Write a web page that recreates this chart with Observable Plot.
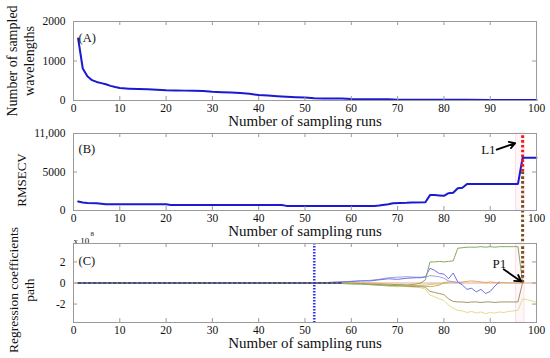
<!DOCTYPE html>
<html><head><meta charset="utf-8">
<script src="https://cdn.jsdelivr.net/npm/d3@7"></script>
<script src="https://cdn.jsdelivr.net/npm/@observablehq/plot@0.6"></script>
<style>
body{margin:0;background:#fff;}
#chart{position:relative;width:550px;height:358px;background:#fff;}
#chart svg{position:absolute;left:0;top:0;background:transparent;overflow:visible;}
</style></head><body><div id="chart"></div>
<script>
// ---------- data ----------
const xTicks = [0,10,20,30,40,50,60,70,80,90,100];
const xLabel = "Number of sampling runs";

// Panel A: number of sampled wavelengths
const runsA = [1,2,3,4,5,6,7,8,9,10,12,14,16,18,20,22,24,26,28,30,32,34,36,38,40,42,44,46,48,50,52,54,56,58,60,62,64,66,68,70,75,80,85,90,95,100];
const wavelengths = [1570,810,615,515,470,440,410,370,340,315,300,290,282,275,262,255,250,245,238,222,212,200,188,168,140,125,110,95,85,78,60,52,50,48,38,34,33,33,30,20,18,17,16,15,15,15];
const yTicksA = [0,1000,2000];
const yTickLabelsA = ["0","1000","2000"];
const yLabelA = "Number of sampled\nwavelengths";

// Panel B: RMSECV
const runsB = [1,2,3,5,7,10,15,20,21,30,40,45,46,50,60,65,66,68,69,72,73,76,77,78,79,80,81,82,83,84,85,90,95,96,97,98,100];
const rmsecv = [1180,1050,980,950,800,800,800,800,700,700,700,700,600,600,600,600,650,800,950,1000,1050,1080,2000,2000,1950,1900,2250,2300,2900,2950,3450,3450,3450,3450,6850,6850,6850];
const yTicksB = [0,5000,10000];
const yTickLabelsB = ["0","5000","11,000"];
const yLabelB = "RMSECV";

// Panel C: regression coefficient paths (x 10^8)
const runsC = [1,10,20,30,40,50,52,55,58,60,62,64,66,68,70,72,74,75,76,77,78,79,80,81,82,83,84,85,86,87,88,89,90,91,92,93,94,95,96,97,98,99,100];
const coefGreen  = [0,0,0,0,0,0, 0,0,-0.05, -0.1,-0.1,-0.15,-0.2,-0.2, -0.15,-0.2,-0.1,0,0.3, 2.0,2.0,2.05,2.0,2.05,2.1,3.3,3.35,3.4,3.4,3.4,3.45,3.4,3.45,3.4,3.45,3.45,3.45,3.45,3.45,0.05,null,null,null];
const coefBlue   = [0,0,0,0,0,0, 0,0.05,0.1, 0.15,0.2,0.2,0.3,0.4, 0.35,0.45,0.5,0.5,0.6, 1.4,1.2,0.9,0.85,0.4,0.95,0.1,-0.2,-0.6,-0.5,-0.85,-0.6,-1.0,-0.8,-0.3,0.1,null,null,null,null,null,null,null,null];
const coefBlue2  = [0,0,0,0,0,0, 0,0.05,0.1, 0.15,0.2,0.25,0.35,0.5, 0.55,0.6,0.55,0.55,0.55, 0.7,0.65,0.6,0.45,0.2,0.1,0.05,0,null,null,null,null,null,null,null,null,null,null,null,null,null,null,null,null];
const coefOlive  = [0,0,0,0,0,0, 0,0,0, 0,-0.05,-0.1,-0.15,-0.2, -0.25,-0.3,-0.35,-0.35,-0.4, -0.8,-0.9,-1.0,-1.1,-1.5,-1.75,-1.8,-1.8,-1.85,-1.8,-1.8,-1.85,-1.8,-1.8,-1.85,-1.8,-1.8,-1.8,-1.8,-1.8,0.05,null,null,null];
const coefYellow = [0,0,0,0,0,0, 0,0,0, 0,-0.05,-0.1,-0.2,-0.25, -0.3,-0.35,-0.4,-0.45,-0.6, -1.15,-1.3,-1.5,-1.65,-2.1,-2.4,-2.6,-2.65,-2.8,-2.7,-2.85,-2.75,-2.9,-2.8,-2.85,-2.75,-2.8,-2.7,-2.65,-2.6,-1.5,-1.6,-1.7,-1.85];
const coefOrange = [0,0,0,0,0,0, 0,0,0, 0,0,0,-0.05,-0.1, -0.15,-0.2,-0.25,-0.25,-0.3, -0.35,-0.3,-0.2,0.05,0.1,0.1,0.05,0.1,0.15,0.2,0.15,0.1,0.05,0.1,0.05,0,0.05,0,0,0,0,null,null,null];
const coefLime   = [0,0,0,0,0,0, 0,0,0, -0.05,-0.1,-0.15,-0.2,-0.3, -0.35,-0.3,-0.25,-0.2,-0.2, -0.15,-0.1,-0.1,-0.05,0,null,null,null,null,null,null,null,null,null,null,null,null,null,null,null,null,null,null,null];
const coefDark   = [0,0,0,0,0,0, 0,0,0, null,null,null,null,null,null,null,null,null,null,null,null,null,null,null,null,null,null,null,null,null,null,null,null,null,null,null,null,null,null,null,null,null,null];
const yTicksC = [-2,0,2];
const yTickLabelsC = ["-2","0","2"];
const yLabelC = "Regression coefficients\npath";

// annotations
const selectedRun = [97];          // L1 / P1 position
const selectedBand = [[95.6, 97.4]];
const stopRun = [52];              // blue dotted line in (C)
const l1Text = [{run: 89.6, v: 7900, t: "L1"}];
const l1Arrow = [{x1: 91.4, y1: 7900, x2: 95.4, y2: 8750}];
const p1Text = [{run: 92.0, v: 1.85, t: "P1"}];
const p1Arrow = [{x1: 92.9, y1: 1.3, x2: 96.7, y2: 0.15}];

// ---------- layout ----------
const W = 550, H = 358, ML = 73, MR = 14;
const FONT = '"Liberation Serif", "Times New Roman", serif';
const blue = "#1a1ad0";
const tickColor = "#9a9a9a";

function panel({top, bottom, yDomain, yTicks, yTickLabels, yLabel, yLabelSize, yLabelDy, tag, tagDy, marks}) {
  const fh = bottom - top, fw = W - ML - MR;
  return Plot.plot({
    width: W, height: H,
    marginLeft: ML, marginRight: MR, marginTop: top, marginBottom: H - bottom,
    style: {background: "transparent", fontFamily: FONT, color: "#111", overflow: "visible"},
    x: {domain: [0, 100]},
    y: {domain: yDomain},
    marks: [
      ...marks,
      Plot.frame({stroke: tickColor}),
      Plot.tickX(xTicks, {stroke: tickColor, insetTop: fh - 4}),
      Plot.tickX(xTicks, {stroke: tickColor, insetBottom: fh - 4}),
      Plot.tickY(yTicks, {stroke: tickColor, insetRight: fw - 4}),
      Plot.tickY(yTicks, {stroke: tickColor, insetLeft: fw - 4}),
      Plot.axisX(xTicks, {tickSize: 0, tickPadding: 3, label: null, fontSize: 11.5, fill: "#111"}),
      Plot.axisY(yTicks, {tickSize: 0, tickPadding: 8, label: null, fontSize: 11.5, fill: "#111",
        tickFormat: d => yTickLabels[yTicks.indexOf(d)]}),
      Plot.text([xLabel], {frameAnchor: "bottom", dy: 25, fontSize: 15, fill: "#111"}),
      Plot.text([yLabel], {frameAnchor: "left", textAnchor: "middle", lineAnchor: "middle", rotate: -90, dx: -53, dy: yLabelDy, fontSize: yLabelSize, lineHeight: 1.2, fill: "#111"}),
      Plot.text([tag], {frameAnchor: "top-left", textAnchor: "start", dx: 5, dy: tagDy, fontSize: 12.5, fill: "#111"})
    ]
  });
}

const rowsA = runsA.map((r, i) => ({run: r, v: wavelengths[i]}));
const rowsB = runsB.map((r, i) => ({run: r, v: rmsecv[i]}));
const seriesC = [
  {vals: coefLime, color: "#bccf74", w: 1, dash: null},
  {vals: coefOrange, color: "#dcaa62", w: 1, dash: null},
  {vals: coefYellow, color: "#e2de8a", w: 1, dash: null},
  {vals: coefOlive, color: "#a39468", w: 1, dash: null},
  {vals: coefBlue2, color: "#a0a0e6", w: 1, dash: null},
  {vals: coefBlue, color: "#7070e2", w: 1, dash: null},
  {vals: coefGreen, color: "#88a862", w: 1, dash: null},
  {vals: coefDark, color: "#34346e", w: 1.4, dash: "3,2"}
];

const plotA = panel({
  top: 21, bottom: 100, yDomain: [0, 2000], yTicks: yTicksA, yTickLabels: yTickLabelsA,
  yLabel: yLabelA, yLabelSize: 14, yLabelDy: 0, tag: "(A)", tagDy: 12,
  marks: [
    Plot.line(rowsA, {x: "run", y: "v", stroke: blue, strokeWidth: 2})
  ]
});

const plotB = panel({
  top: 133, bottom: 210, yDomain: [0, 10000], yTicks: yTicksB, yTickLabels: yTickLabelsB,
  yLabel: yLabelB, yLabelSize: 13, yLabelDy: 8, tag: "(B)", tagDy: 11,
  marks: [
    Plot.rect(selectedBand, {x1: d => d[0], x2: d => d[1], fill: "#fff6fa", stroke: "#fbdde9", strokeWidth: 1}),
    Plot.line(rowsB, {x: "run", y: "v", stroke: blue, strokeWidth: 2}),
    Plot.ruleX(selectedRun, {y1: 5000, y2: 10000, stroke: "#ee1c1c", strokeWidth: 3, strokeDasharray: "2.6,2.2"}),
    Plot.ruleX(selectedRun, {y1: 5000, y2: 0, insetBottom: -33, stroke: "#7a5020", strokeWidth: 3, strokeDasharray: "2.6,2.2"}),
    Plot.arrow(l1Arrow, {x1: "x1", y1: "y1", x2: "x2", y2: "y2", stroke: "#000", strokeWidth: 1.8, headLength: 9}),
    Plot.text(l1Text, {x: "run", y: "v", text: "t", fontSize: 13, fill: "#111"})
  ]
});

const plotC = panel({
  top: 243, bottom: 322, yDomain: [-3.75, 3.75], yTicks: yTicksC, yTickLabels: yTickLabelsC,
  yLabel: yLabelC, yLabelSize: 13.5, yLabelDy: 7, tag: "(C)", tagDy: 13,
  marks: [
    Plot.rect(selectedBand, {x1: d => d[0], x2: d => d[1], fill: "#fff6fa", stroke: "#fbdde9", strokeWidth: 1}),
    Plot.ruleY([0], {stroke: "#eaa890", strokeWidth: 1.2}),
    ...seriesC.map(s => Plot.line(runsC.map((r, i) => ({run: r, v: s.vals[i]})),
      {x: "run", y: "v", stroke: s.color, strokeWidth: s.w, strokeDasharray: s.dash})),
    Plot.ruleX(stopRun, {stroke: "#3030ee", strokeWidth: 2.6, strokeDasharray: "1.6,1.4"}),
    Plot.ruleX(selectedRun, {y1: 0, y2: 3.75, stroke: "#7a5020", strokeWidth: 3, strokeDasharray: "2.6,2.2"}),
    Plot.arrow(p1Arrow, {x1: "x1", y1: "y1", x2: "x2", y2: "y2", stroke: "#000", strokeWidth: 1.8, headLength: 9}),
    Plot.text(p1Text, {x: "run", y: "v", text: "t", fontSize: 13, fill: "#111"}),
    Plot.text(["x 10"], {frameAnchor: "top-left", textAnchor: "start", dx: 0, dy: -6, fontSize: 9, fill: "#111"}),
    Plot.text(["8"], {frameAnchor: "top-left", textAnchor: "start", dx: 17, dy: -12, fontSize: 7, fill: "#111"})
  ]
});

const chart = document.getElementById("chart");
chart.append(plotA, plotB, plotC);
</script></body></html>
